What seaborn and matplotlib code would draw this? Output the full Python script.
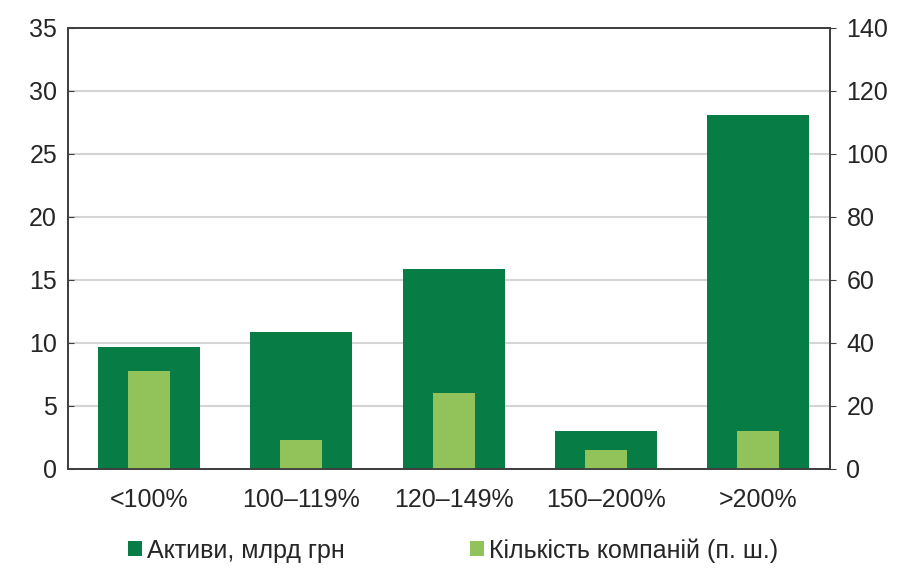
import numpy as np
import matplotlib
matplotlib.use("Agg")
import matplotlib.pyplot as plt
import pandas as pd
import seaborn as sns
from matplotlib.patches import Patch

# Data
categories = ["<100%", "100\u2013119%", "120\u2013149%", "150\u2013200%", ">200%"]
assets = [9.7, 10.9, 15.9, 3.0, 28.1]          # left axis, bn UAH
companies = [31, 9, 24, 6, 12]                  # right axis, count
left_ticks = [0, 5, 10, 15, 20, 25, 30, 35]
right_ticks = [0, 20, 40, 60, 80, 100, 120, 140]
legend_labels = ["Активи, млрд грн", "Кількість компаній (п. ш.)"]

dark = "#077d45"
light = "#92c35a"

sns.set_style("white")
plt.rcParams['font.family'] = ['Liberation Sans', 'DejaVu Sans']

df = pd.DataFrame({"cat": categories, "assets": assets, "companies": companies})

fig = plt.figure(figsize=(9.21, 5.71), dpi=100)
ax = fig.add_axes([0.074, 0.179, 0.827, 0.772])
ax.set_axisbelow(True)
sns.barplot(data=df, x="cat", y="assets", color=dark, width=0.67, saturation=1,
            linewidth=0, ax=ax)
ax.set_ylim(0, 35)
ax.set_yticks(left_ticks)
ax.yaxis.grid(True, color="#d4d4d4", linewidth=1.5)
ax.set_xlabel("")
ax.set_ylabel("")

ax2 = ax.twinx()
sns.barplot(data=df, x="cat", y="companies", color=light, width=0.275, saturation=1,
            linewidth=0, ax=ax2)
ax2.set_ylim(0, 140)
ax2.set_yticks(right_ticks)
ax2.set_ylabel("")
ax2.set_xlim(-0.53, 4.47)
ax.set_xlim(-0.53, 4.47)

for a in (ax, ax2):
    for s in a.spines.values():
        s.set_color("#404040")
        s.set_linewidth(1.3)

ax.tick_params(axis="y", labelsize=18, length=4, direction="in", color="#404040", pad=8)
ax2.tick_params(axis="y", labelsize=18, length=4, direction="out", color="#404040", pad=8)
ax.tick_params(axis="x", labelsize=18, length=0, pad=14)
ax.set_xticks([0.5, 1.5, 2.5, 3.5], minor=True)
ax.tick_params(axis="x", which="minor", length=5, direction="in", color="#404040")

handles = [Patch(facecolor=dark, edgecolor="none"), Patch(facecolor=light, edgecolor="none")]
fig.legend(handles, legend_labels, loc="lower left", bbox_to_anchor=(0.115, -0.025),
           ncol=2, frameon=False, fontsize=18, handlelength=0.55, handleheight=0.55,
           handletextpad=0.2, columnspacing=5.0)

fig.savefig("out.png", dpi=100)
